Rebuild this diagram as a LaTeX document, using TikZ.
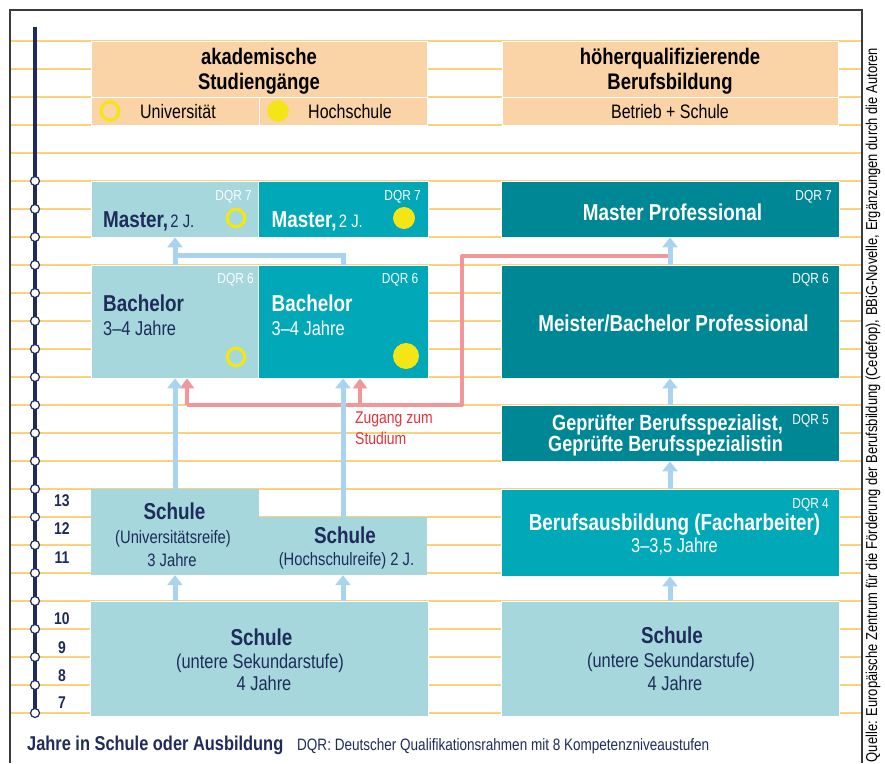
\documentclass[tikz,border=0pt]{standalone}
\usepackage{fontspec}
\setmainfont{Liberation Sans}[FakeStretch=0.82]
\usetikzlibrary{arrows.meta,calc}
\definecolor{peach}{HTML}{FAD3A6}
\definecolor{ylw}{HTML}{FAD27C}
\definecolor{lteal}{HTML}{A5D7DC}
\definecolor{mteal}{HTML}{00A8B8}
\definecolor{dteal}{HTML}{008796}
\definecolor{navy}{HTML}{1F2B5B}
\definecolor{lblue}{HTML}{AAD3F0}
\definecolor{pinkred}{HTML}{F1979A}
\definecolor{redtxt}{HTML}{E4323A}
\definecolor{cyel}{HTML}{F3E516}
\definecolor{framec}{HTML}{3C3C3C}
\newcommand{\fs}[1]{\fontsize{#1}{#1}\selectfont}
\tikzset{
  box/.style={rectangle, inner sep=0pt, draw=white, line width=0.8pt},
  plainbox/.style={rectangle, inner sep=0pt, draw=none},
  txt/.style={inner sep=0pt, anchor=base},
  txtw/.style={inner sep=0pt, anchor=base west},
  dqr/.style={inner sep=0pt, anchor=base east, text=white, font=\fs{14.5}},
  ringmark/.style={circle, draw=cyel, line width=3.2pt, inner sep=0pt},
  dotmark/.style={circle, fill=cyel, inner sep=0pt},
  tdot/.style={circle, draw=navy, fill=white, line width=1.2pt, inner sep=0pt, minimum size=9pt},
  yline/.style={draw=ylw, line width=2pt},
  bluearrow/.style={draw=lblue, line width=5pt, -{Triangle[width=15pt,length=10pt]}},
  blueline/.style={draw=lblue, line width=5pt},
  redline/.style={draw=pinkred, line width=4pt, line join=round},
  redarrow/.style={draw=pinkred, line width=4pt, -{Triangle[width=14pt,length=10pt]}},
  yrnum/.style={inner sep=0pt, text=navy, font=\bfseries\fs{17}},
}
\begin{document}
\begin{tikzpicture}[x=1pt,y=-1pt]
\useasboundingbox (0,0) rectangle (885,763);
% background lines
\foreach \k in {0,...,24} \draw[yline] (10,{41+28*\k}) -- (862,{41+28*\k});
% frame
\draw[framec, line width=1.6pt] (10,763) -- (10,10) -- (862,10) -- (862,763);
% timeline
\coordinate (tltop) at (35,27);
\coordinate (tlbot) at (35,713);
\draw[navy, line width=3.5pt] (tltop) -- (tlbot);
\foreach \k in {0,...,19} \node[tdot] (t\k) at (35,{181+28*\k}) {};
% year numbers
\node[yrnum] (y13) at (62,501) {13};
\node[yrnum] (y12) at (62,529) {12};
\node[yrnum] (y11) at (62,558) {11};
\node[yrnum] (y10) at (62,619) {10};
\node[yrnum] (y9) at (62,648) {9};
\node[yrnum] (y8) at (62,676) {8};
\node[yrnum] (y7) at (62,703) {7};

% headers
\node[box, fill=peach, minimum width=336pt, minimum height=56pt] (hl) at (259,69) {};
\node[box, fill=peach, minimum width=168pt, minimum height=28pt] (hl1) at (175,111) {};
\node[box, fill=peach, minimum width=168pt, minimum height=28pt] (hl2) at (343,111) {};
\node[txt, font=\bfseries\fs{22.5}] (hlt1) at (259,64) {akademische};
\node[txt, font=\bfseries\fs{22.5}] (hlt2) at (259,89) {Studiengänge};
\node[ringmark, minimum size=18pt] (hr1) at (110,111) {};
\node[txtw, font=\fs{19.5}] (hu) at (140,118) {Universität};
\node[dotmark, minimum size=21.5pt] (hd1) at (278,111) {};
\node[txtw, font=\fs{19.5}] (hh) at (308,118) {Hochschule};

\node[box, fill=peach, minimum width=336pt, minimum height=56pt] (hr) at (670,69) {};
\node[box, fill=peach, minimum width=336pt, minimum height=28pt] (hrs) at (670,111) {};
\node[txt, font=\bfseries\fs{22.5}] (hrt1) at (670,64) {höherqualifizierende};
\node[txt, font=\bfseries\fs{22.5}] (hrt2) at (670,89) {Berufsbildung};
\node[txt, font=\fs{19.5}] (hrb) at (670,118) {Betrieb + Schule};

% Master row
\node[box, fill=lteal, minimum width=167pt, minimum height=56pt] (ml) at (174.5,209) {};
\node[box, fill=mteal, minimum width=170pt, minimum height=56pt] (mh) at (343,209) {};
\node[box, fill=dteal, minimum width=338pt, minimum height=56pt] (mp) at (670,209) {};
\node[dqr] (mlq) at (252,200) {DQR 7};
\node[dqr] (mhq) at (421,200) {DQR 7};
\node[dqr] (mpq) at (832,200) {DQR 7};
\node[txtw, text=navy] (mlt) at (103,227) {{\bfseries\fs{23}Master,} {\fs{18}2 J.}};
\node[txtw, text=white] (mht) at (271.5,227) {{\bfseries\fs{23}Master,} {\fs{18}2 J.}};
\node[ringmark, minimum size=17.5pt] (mlr) at (236,218) {};
\node[dotmark, minimum size=22pt] (mhd) at (404,218) {};
\node[txt, text=white, font=\bfseries\fs{23}] (mpt) at (672.5,220) {Master Professional};

% Bachelor row
\node[box, fill=lteal, minimum width=167pt, minimum height=113pt] (bl) at (174.5,321.5) {};
\node[box, fill=mteal, minimum width=170pt, minimum height=113pt] (bh) at (343,321.5) {};
\node[box, fill=dteal, minimum width=338pt, minimum height=113pt] (me) at (670,321.5) {};
\node[dqr] (blq) at (254,283) {DQR 6};
\node[dqr] (bhq) at (418.5,283) {DQR 6};
\node[dqr] (meq) at (829,283) {DQR 6};
\node[txtw, text=navy, font=\bfseries\fs{23}] (blt) at (103,311.5) {Bachelor};
\node[txtw, text=navy, font=\fs{20}] (blj) at (103,335) {3–4 Jahre};
\node[txtw, text=white, font=\bfseries\fs{23}] (bht) at (271.5,311.5) {Bachelor};
\node[txtw, text=white, font=\fs{20}] (bhj) at (271.5,335) {3–4 Jahre};
\node[ringmark, minimum size=17.5pt] (blr) at (236,357) {};
\node[dotmark, minimum size=26pt] (bhd) at (406,356) {};
\node[txt, text=white, font=\bfseries\fs{23}] (met) at (673.5,331.5) {Meister/Bachelor Professional};

% Gepruefter
\node[box, fill=dteal, minimum width=338pt, minimum height=56pt] (gp) at (670,433) {};
\node[dqr] (gpq) at (829,424) {DQR 5};
\node[txt, text=white, font=\bfseries\fs{22}] (gpt1) at (667.5,430) {Geprüfter Berufsspezialist,};
\node[txt, text=white, font=\bfseries\fs{22}] (gpt2) at (665.5,451.5) {Geprüfte Berufsspezialistin};

% Berufsausbildung
\node[box, fill=mteal, minimum width=338pt, minimum height=87pt] (ba) at (670,532.5) {};
\node[dqr] (baq) at (829,508) {DQR 4};
\node[txt, text=white, font=\bfseries\fs{23}] (bat) at (674.5,530) {Berufsausbildung (Facharbeiter)};
\node[txt, text=white, font=\fs{20}] (baj) at (674.5,552.5) {3–3,5 Jahre};

% Schule (upper secondary), L-shaped
\node[plainbox, fill=lteal, minimum width=168pt, minimum height=86pt] (su) at (175,532) {};
\node[plainbox, fill=lteal, minimum width=168pt, minimum height=58pt] (sh) at (343,546) {};
\node[txt, text=navy, font=\bfseries\fs{23}] (sut) at (174.5,519) {Schule};
\node[txt, text=navy, font=\fs{18}] (sus) at (173,543) {(Universitätsreife)};
\node[txt, text=navy, font=\fs{18}] (suj) at (172,566) {3 Jahre};
\node[txt, text=navy, font=\bfseries\fs{23}] (sht) at (345,543) {Schule};
\node[txt, text=navy, font=\fs{18}] (shs) at (346.5,565) {(Hochschulreife) 2 J.};

% Schule lower secondary
\node[box, fill=lteal, minimum width=338pt, minimum height=115pt] (sl) at (259,658.5) {};
\node[txt, text=navy, font=\bfseries\fs{23}] (slt) at (261.5,645) {Schule};
\node[txt, text=navy, font=\fs{20}] (sls) at (260,668) {(untere Sekundarstufe)};
\node[txt, text=navy, font=\fs{20}] (slj) at (264,690) {4 Jahre};
\node[box, fill=lteal, minimum width=338pt, minimum height=115pt] (sr) at (670,658.5) {};
\node[txt, text=navy, font=\bfseries\fs{23}] (srt) at (672,643) {Schule};
\node[txt, text=navy, font=\fs{20}] (srs) at (671,667) {(untere Sekundarstufe)};
\node[txt, text=navy, font=\fs{20}] (srj) at (675,690) {4 Jahre};

% column coordinates
\coordinate (cL) at (175,0);
\coordinate (cH) at (343,0);
\coordinate (cR) at (670,0);
\coordinate (jn) at (175,255);

% red access line
\coordinate (rs) at (668,256);
\coordinate (rc1) at (462,256);
\coordinate (rc2) at (462,405);
\coordinate (ra) at (187,405);
\coordinate (rb) at (360,405);
\draw[redline] (rs) -- (rc1) -- (rc2) -- (ra);
\draw[redarrow] (ra) -- (bl.south -| ra);
\draw[redarrow] (rb) -- (bh.south -| rb);
\node[txtw, text=redtxt, font=\fs{17}] (zg1) at (355,423) {Zugang zum};
\node[txtw, text=redtxt, font=\fs{17}] (zg2) at (355,444) {Studium};

% blue arrows, left
\draw[bluearrow] (sl.north -| cL) -- (su.south -| cL);
\draw[bluearrow] (sl.north -| cH) -- (sh.south -| cH);
\draw[bluearrow] (su.north -| cL) -- (bl.south -| cL);
\draw[bluearrow] (sh.north -| cH) -- (bh.south -| cH);
\draw[blueline] (bh.north -| cH) |- (jn);
\draw[bluearrow] (bl.north -| cL) -- (ml.south -| cL);
% blue arrows, right
\draw[bluearrow] (sr.north -| cR) -- (ba.south -| cR);
\draw[bluearrow] (ba.north -| cR) -- (gp.south -| cR);
\draw[bluearrow] (gp.north -| cR) -- (me.south -| cR);
\draw[bluearrow] (me.north -| cR) -- (mp.south -| cR);

% bottom legend
\node[txtw, text=navy, font=\bfseries\fs{20}] (leg1) at (27,750) {Jahre in Schule oder Ausbildung};
\node[txtw, text=navy, font=\fs{16.5}] (leg2) at (297,750) {DQR: Deutscher Qualifikationsrahmen mit 8 Kompetenzniveaustufen};
% source
\node[inner sep=0pt, rotate=90, font=\fs{15.8}] (src) at (873,405) {Quelle: Europäische Zentrum für die Förderung der Berufsbildung (Cedefop), BBiG-Novelle, Ergänzungen durch die Autoren};
\end{tikzpicture}
\end{document}
